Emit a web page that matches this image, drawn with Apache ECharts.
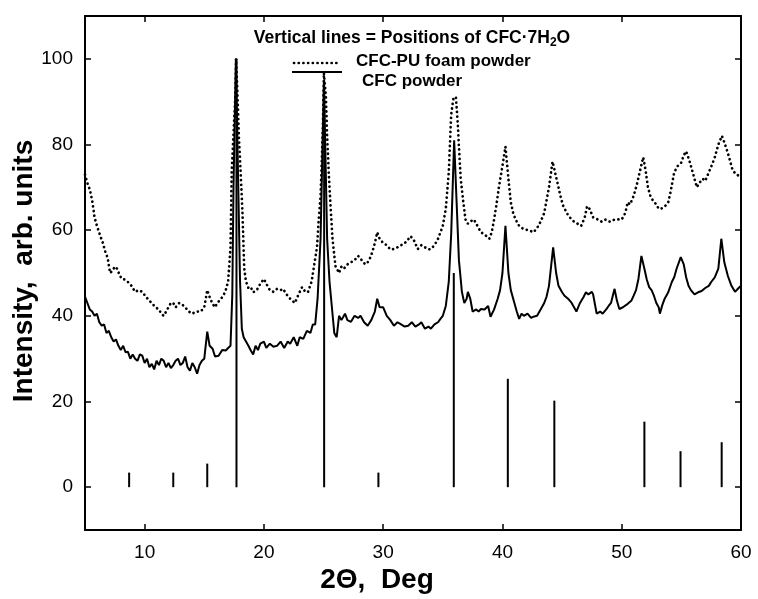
<!DOCTYPE html>
<html>
<head>
<meta charset="utf-8">
<script src="https://cdn.jsdelivr.net/npm/echarts@6/dist/echarts.min.js"></script>
<style>
html,body{margin:0;padding:0;background:#fff;}
#chart{width:758px;height:599px;}
</style>
</head>
<body>
<div id="chart"></div>
<script>
// CFC powder (solid line)
const cfcAngle = [5.0,5.2,5.4,5.6,5.8,6.0,6.2,6.4,6.6,6.8,7.0,7.2,7.4,7.6,7.8,8.0,8.2,8.4,8.6,8.8,9.0,9.2,9.4,9.6,9.8,10.0,10.2,10.4,10.6,10.8,11.0,11.2,11.4,11.6,11.8,12.0,12.2,12.4,12.6,12.8,13.0,13.2,13.4,13.6,13.8,14.0,14.2,14.4,14.6,14.8,15.0,15.25,15.45,15.7,15.9,16.2,16.5,16.8,17.0,17.2,17.35,17.45,17.65,17.85,18.0,18.15,18.3,18.5,18.7,18.9,19.1,19.3,19.5,19.7,20.0,20.2,20.5,20.8,21.1,21.4,21.7,22.0,22.2,22.5,22.8,23.0,23.3,23.6,23.9,24.1,24.3,24.5,24.75,25.03,25.3,25.5,25.7,25.9,26.1,26.3,26.5,26.8,27.0,27.3,27.6,27.9,28.1,28.4,28.7,29.0,29.3,29.5,29.7,30.0,30.3,30.6,30.9,31.2,31.5,31.8,32.1,32.4,32.7,33.0,33.2,33.5,33.8,34.0,34.3,34.6,34.8,35.0,35.25,35.5,35.7,35.95,36.15,36.35,36.6,36.8,37.0,37.1,37.3,37.5,37.8,38.0,38.2,38.5,38.8,39.0,39.3,39.6,39.8,40.0,40.25,40.5,40.7,41.0,41.2,41.4,41.6,41.8,42.1,42.4,42.6,42.9,43.2,43.5,43.7,43.9,44.25,44.5,44.7,45.0,45.2,45.5,45.8,46.0,46.2,46.5,46.8,47.0,47.2,47.5,47.6,47.8,47.9,48.2,48.4,48.7,48.9,49.1,49.4,49.6,49.8,50.1,50.5,50.8,51.0,51.2,51.4,51.65,51.9,52.1,52.3,52.5,52.7,52.9,53.1,53.2,53.4,53.6,53.9,54.2,54.4,54.6,54.95,55.2,55.4,55.6,55.8,56.1,56.4,56.7,57.0,57.3,57.5,57.8,58.1,58.35,58.6,58.9,59.2,59.5,59.8,60.0];
const cfcIntensity = [44.5,43,41.5,41,40,40.5,38.5,37.7,38,36,36.5,35,34,34.5,33,32,33,31.5,31.6,30,31,30,29.5,31,30.7,29,30,28,28.8,27.5,29.5,28.5,30,29.5,28,29,27.8,28.5,29.5,30,28.5,29,30.5,28,27.2,29,28,26.5,28.5,29.5,30,36.3,33,32.3,30.5,30.7,32,31.9,32.5,33,45,70,100,70,48,37,35,34,33,31.9,31,33,32,33.5,34,32.5,33.5,32.8,33,34,32.5,34,33.5,35,33,35,34.6,36.5,36,38,38,44,58,95,58,48,42,36,35,40,39,40.5,39,38.6,40,39.5,40,38.5,37.7,39,41,44,42,42,40,39,37.7,38.5,38,37.5,37.7,38.5,37.5,38,38.5,37,37.5,37,38,38.5,39.3,40,42.3,48,59,81,67,53,45.6,43,44,45.6,44,41,41.5,41,41.6,41.5,42.3,39.8,41.5,44,46,50,61,50,46,43,41,39.3,40.5,40,40.5,39.5,39.8,40,41.5,43,44.5,47,56,50,47,45.5,44.7,44,43,42,41,43,44.4,45.5,45,45.6,45,42,40.5,41,40.5,41.5,42.3,43,46.3,43.5,41.6,42,42.8,43.5,44.7,46,48.6,54,51,48.5,46.7,46,44.7,43,42,40.5,42.5,44,45.5,47.9,49,51,53.7,52,49,47,46,45,45.5,45.8,46.5,47,47.9,49,51,58,52.5,49.3,47,45.6,46.5,47];

// CFC-PU foam powder (dotted line)
const foamAngle = [5.0,5.2,5.4,5.6,5.8,6.0,6.3,6.5,6.7,6.9,7.1,7.3,7.5,7.7,7.9,8.1,8.3,8.6,8.9,9.2,9.5,9.8,10.1,10.4,10.6,10.9,11.2,11.4,11.6,11.8,12.0,12.2,12.4,12.6,12.9,13.2,13.4,13.7,14.0,14.3,14.7,15.0,15.25,15.5,15.7,15.9,16.1,16.4,16.6,16.8,17.0,17.2,17.3,17.45,17.6,17.67,17.8,17.9,18.05,18.2,18.35,18.5,18.7,18.9,19.1,19.4,19.7,20.0,20.2,20.5,20.8,21.1,21.4,21.6,21.9,22.2,22.4,22.6,22.9,23.2,23.5,23.7,24.0,24.2,24.45,24.6,24.75,24.85,24.95,25.03,25.2,25.3,25.45,25.6,25.75,26.0,26.3,26.5,26.7,27.0,27.3,27.6,27.9,28.2,28.5,28.7,28.9,29.1,29.3,29.5,29.7,30.0,30.3,30.6,30.9,31.2,31.5,31.7,32.0,32.3,32.6,32.9,33.2,33.5,33.8,34.0,34.3,34.6,34.8,35.0,35.25,35.5,35.7,35.9,36.1,36.25,36.35,36.5,36.7,36.9,37.1,37.3,37.6,37.9,38.2,38.5,38.9,39.1,39.3,39.5,39.7,40.0,40.25,40.5,40.7,40.9,41.1,41.4,41.8,42.2,42.6,42.9,43.2,43.5,43.7,43.9,44.2,44.45,44.7,44.9,45.1,45.5,45.8,46.0,46.3,46.6,46.9,47.1,47.3,47.6,48.0,48.3,48.6,48.9,49.1,49.4,49.7,50.0,50.3,50.5,50.7,51.0,51.3,51.5,51.8,52.0,52.2,52.4,52.6,52.9,53.1,53.3,53.6,53.9,54.1,54.4,54.7,55.0,55.2,55.4,55.7,55.9,56.1,56.3,56.5,56.8,57.0,57.3,57.6,57.8,58.1,58.4,58.6,58.9,59.1,59.3,59.6,59.9,60.0];
const foamIntensity = [73,71,69.5,67,63,61,58.5,57,55,53.5,50,50.5,51.5,51,49.5,48.6,48.5,47.9,47,45.6,46,45.6,44.5,43.5,43,42,41.5,40.5,40,41,42,43,43,42,43,42.5,42,41,40.5,41,41,42,46,44,42.8,42,43,44,44.7,46,48,56,73.5,82.5,91,100,90.5,82,73.5,64.3,51,48,46.5,46.7,45.5,46,47.5,48.6,47.5,46,45.6,46.3,46,46.3,45,44,43.5,43,45,46.7,45.5,45.6,48,51.6,56,62.6,68,76,85,96.7,91,82,72.6,65,58,51.6,50,51.5,51,52,52.5,53,54,53,52,52.5,53.5,55,57,59.5,58,57,56.5,55.5,55.6,56,56.5,56.7,57.5,58.6,57.5,55.6,56.5,56,55.5,55.6,56.5,58,59.5,61,65,73.5,87,91,91,85,79.5,72,67,62.5,61.5,62,62.5,61,59.5,59,58,59.5,62.5,66,70,75,79.5,72,66.5,64,62.5,61,60.2,60,59.5,60.5,62,64,67,70,76,73,70,67.5,65.6,63.5,62.5,62,61.5,61,63,65.6,65,63,62.5,62,62.5,62,62,62.5,62.5,62.5,64,66.5,66,68,71,73.5,77,74,70,68,67,66,65,65,65.5,66.5,69,73.5,75,75.8,77.5,78.4,76,74,72,70,71,72,71.5,73.5,75.5,77,80,82,80.5,78,76,74,73,72.6,73];

// Vertical lines = positions of CFC·7H2O
const stickAngle = [8.7,12.4,15.25,17.7,25.05,29.6,35.92,40.45,44.35,51.9,54.93,58.38];
const stickHeight = [3.4,3.4,5.5,100,95,3.4,50,25.3,20.2,15.3,8.4,10.5];

const xTicks = [10,20,30,40,50,60];
const yTicks = [0,20,40,60,80,100];

const toPairs = (a, b) => a.map((v, i) => [v, b[i]]);

const chart = echarts.init(document.getElementById('chart'), null, {renderer: 'canvas'});
const FONT = 'Liberation Sans, Arial, sans-serif';
const axisBase = {
  axisLine: {show: true, onZero: false, lineStyle: {color: '#000', width: 2}},
  axisTick: {show: true, inside: true, length: 6, lineStyle: {color: '#000', width: 1.5}},
  splitLine: {show: false}
};

chart.setOption({
  animation: false,
  backgroundColor: '#fff',
  grid: {left: 85, right: 17, top: 16, bottom: 69, containLabel: false},
  xAxis: [
    Object.assign({}, axisBase, {
      type: 'value', min: 5, max: 60, position: 'bottom',
      axisTick: Object.assign({}, axisBase.axisTick, {customValues: xTicks}),
      axisLabel: {customValues: xTicks, color: '#000', fontSize: 19, fontFamily: FONT, margin: 13}
    }),
    Object.assign({}, axisBase, {
      type: 'value', min: 5, max: 60, position: 'top',
      axisTick: Object.assign({}, axisBase.axisTick, {customValues: xTicks}),
      axisLabel: {show: false}
    })
  ],
  yAxis: [
    Object.assign({}, axisBase, {
      type: 'value', min: -10, max: 110, position: 'left',
      axisTick: Object.assign({}, axisBase.axisTick, {customValues: yTicks}),
      axisLabel: {customValues: yTicks, color: '#000', fontSize: 19, fontFamily: FONT, margin: 12}
    }),
    Object.assign({}, axisBase, {
      type: 'value', min: -10, max: 110, position: 'right',
      axisTick: Object.assign({}, axisBase.axisTick, {customValues: yTicks}),
      axisLabel: {show: false}
    })
  ],
  series: [
    {
      type: 'custom',
      name: 'Positions of CFC·7H2O',
      xAxisIndex: 0, yAxisIndex: 0,
      data: toPairs(stickAngle, stickHeight),
      renderItem: function (params, api) {
        const p0 = api.coord([api.value(0), 0]);
        const p1 = api.coord([api.value(0), api.value(1)]);
        return {type: 'line', shape: {x1: p0[0], y1: p0[1], x2: p1[0], y2: p1[1]},
                style: {stroke: '#000', lineWidth: 2}};
      },
      z: 3
    },
    {
      type: 'line',
      name: 'CFC-PU foam powder',
      data: toPairs(foamAngle, foamIntensity),
      showSymbol: false, symbol: 'none',
      lineStyle: {color: '#000', width: 2.7, type: [0.1, 4.6], cap: 'round'},
      z: 2
    },
    {
      type: 'line',
      name: 'CFC powder',
      data: toPairs(cfcAngle, cfcIntensity),
      showSymbol: false, symbol: 'none',
      lineStyle: {color: '#000', width: 2},
      z: 4
    }
  ],
  graphic: [
    {type: 'text', x: 24, y: 271, rotation: Math.PI / 2,
     style: {text: 'Intensity,  arb. units', font: 'bold 28px ' + FONT, fill: '#000', align: 'center', verticalAlign: 'middle'}},
    {type: 'text', x: 377, y: 580,
     style: {text: '2Θ,  Deg', font: 'bold 28px ' + FONT, fill: '#000', align: 'center', verticalAlign: 'middle'}},
    {type: 'text', x: 412, y: 38,
     style: {text: 'Vertical lines = Positions of CFC·7H{sub|2}O', font: 'bold 17.5px ' + FONT, fill: '#000',
             align: 'center', verticalAlign: 'middle', lineHeight: 22,
             rich: {sub: {font: 'bold 12px ' + FONT, fill: '#000', lineHeight: 12, verticalAlign: 'bottom'}}}},
    {type: 'line', shape: {x1: 294, y1: 63, x2: 340, y2: 63},
     style: {stroke: '#000', lineWidth: 2.7, lineDash: [0.1, 4.6], lineCap: 'round'}},
    {type: 'text', x: 356, y: 61,
     style: {text: 'CFC-PU foam powder', font: 'bold 17px ' + FONT, fill: '#000', align: 'left', verticalAlign: 'middle'}},
    {type: 'line', shape: {x1: 292, y1: 72, x2: 342, y2: 72},
     style: {stroke: '#000', lineWidth: 2}},
    {type: 'text', x: 362, y: 81,
     style: {text: 'CFC powder', font: 'bold 17px ' + FONT, fill: '#000', align: 'left', verticalAlign: 'middle'}}
  ]
});
</script>
</body>
</html>
